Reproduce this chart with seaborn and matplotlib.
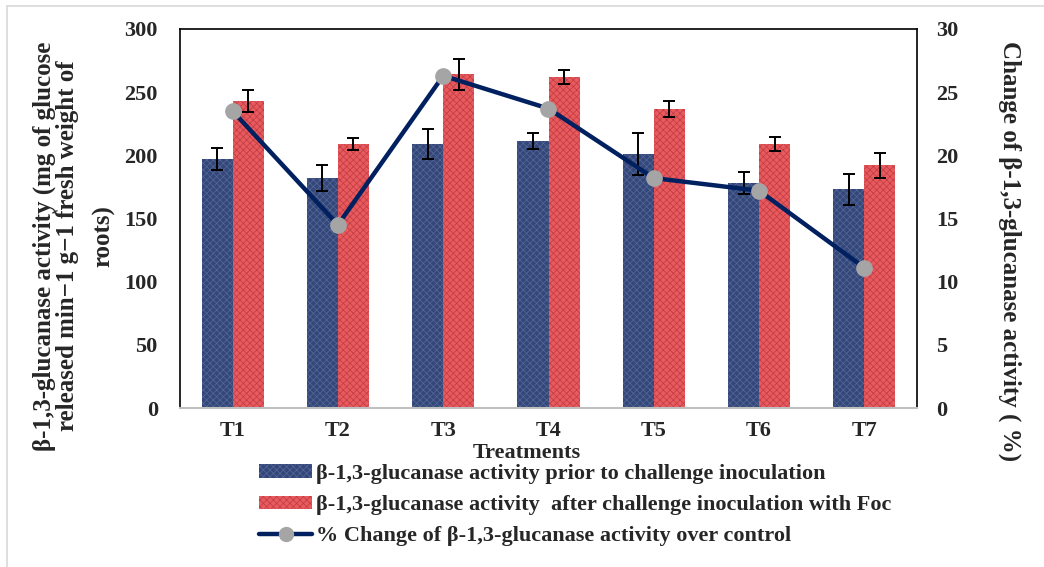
import numpy as np
import pandas as pd
import matplotlib
matplotlib.use("Agg")
import matplotlib.pyplot as plt
from matplotlib.patches import Patch
from matplotlib.lines import Line2D
import seaborn as sns

# ---- data ----
treatments = ["T1", "T2", "T3", "T4", "T5", "T6", "T7"]
prior = [197, 182, 209, 211, 201, 178, 173]
prior_err = [8.5, 10, 11.7, 6.3, 16.8, 8.8, 12]
after = [243, 209, 264, 262, 237, 209, 192]
after_err = [8.5, 4.6, 12.5, 5.5, 6.3, 5.5, 10]
pct_change = [23.5, 14.5, 26.3, 23.7, 18.2, 17.2, 11.1]

lab_prior = "β-1,3-glucanase activity prior to challenge inoculation"
lab_after = "β-1,3-glucanase activity  after challenge inoculation with Foc"
lab_change = "% Change of β-1,3-glucanase activity over control"

blue_face, blue_hatch = "#34477A", "#566895"
red_face, red_hatch = "#E85A5E", "#BE3C42"
line_col = "#002060"
marker_col = "#A5A5A5"

FS_TICK = 16
FS_LEG = 16
FS_TITLE = 18

sns.set_theme(style="white")
plt.rcParams["font.family"] = ["Liberation Serif", "DejaVu Serif"]
plt.rcParams["font.weight"] = "bold"
plt.rcParams["hatch.linewidth"] = 0.5

df = pd.DataFrame({
    "Treatment": treatments * 2,
    "Activity": prior + after,
    "Stage": [lab_prior] * 7 + [lab_after] * 7,
})

fig = plt.figure(figsize=(10.44, 5.67), dpi=100)
ax = fig.add_axes([180 / 1044, 1 - 408 / 567, (917 - 180) / 1044, (408 - 29) / 567])

sns.barplot(data=df, x="Treatment", y="Activity", hue="Stage",
            palette=[blue_face, red_face], width=0.59, errorbar=None,
            saturation=1, legend=False, ax=ax)

# texture on bars + error bars from the patch geometry
errs = prior_err + after_err
hatch_cols = [blue_hatch] * 7 + [red_hatch] * 7
bars = [p for p in ax.patches if p.get_height() > 0]
for p, e, hc in zip(bars, errs, hatch_cols):
    p.set_hatch("xxxxx")
    p.set_edgecolor(hc)
    p.set_linewidth(0)
    cx = p.get_x() + p.get_width() / 2
    ax.errorbar(cx, p.get_height(), yerr=e, fmt="none", ecolor="black",
                elinewidth=1.4, capsize=4.5, capthick=1.4, zorder=5)

ax.set_xlim(-0.5, 6.5)
ax.set_ylim(0, 300)
ax.set_yticks(range(0, 301, 50))
ax.set_xlabel("")
ax.set_ylabel("")
ax.tick_params(axis="y", length=0, pad=16, labelsize=FS_TICK)
ax.tick_params(axis="x", length=0, pad=9, labelsize=FS_TICK)
for s in ["left", "top", "right"]:
    ax.spines[s].set_color("black")
    ax.spines[s].set_linewidth(1.2)
ax.spines["bottom"].set_color("#BFBFBF")
ax.spines["bottom"].set_linewidth(1.5)
for t in ax.get_xticklabels() + ax.get_yticklabels():
    t.set_fontweight("bold")

# percentage change on the secondary axis
ax2 = ax.twinx()
sns.pointplot(x=treatments, y=pct_change, color=line_col, markers="o",
              linestyles="-", ax=ax2, zorder=6)
for ln in ax2.lines:
    ln.set_linewidth(3.2)
    ln.set_markersize(10)
    ln.set_markerfacecolor(marker_col)
    ln.set_markeredgecolor(marker_col)
ax2.set_xlim(-0.5, 6.5)
ax2.set_ylim(0, 30)
ax2.set_yticks(range(0, 31, 5))
ax2.tick_params(axis="y", length=0, pad=14, labelsize=FS_TICK)
for t in ax2.get_yticklabels():
    t.set_fontweight("bold")
for s in ax2.spines.values():
    s.set_visible(False)

# axis titles
fig.text(56 / 1044, 1 - 246 / 567,
         "β-1,3-glucanase activity (mg of glucose\nreleased min−1 g−1 fresh weight of",
         rotation=90, ha="center", va="center", fontsize=FS_TITLE, fontweight="bold",
         linespacing=1.0, multialignment="center")
fig.text(104 / 1044, 1 - 236 / 567, "roots)", rotation=90, ha="center", va="center",
         fontsize=FS_TITLE, fontweight="bold")
fig.text(1010 / 1044, 1 - 251 / 567, "Change of β-1,3-glucanase activity ( %)",
         rotation=270, ha="center", va="center", fontsize=FS_TITLE, fontweight="bold")
fig.text(527 / 1044, 1 - 453 / 567, "Treatments", ha="center", va="center",
         fontsize=FS_LEG, fontweight="bold")

# legend
handles = [
    Patch(facecolor=blue_face, edgecolor=blue_hatch, hatch="xxxxx", linewidth=0),
    Patch(facecolor=red_face, edgecolor=red_hatch, hatch="xxxxx", linewidth=0),
    Line2D([0], [0], color=line_col, lw=3.2, marker="o", markersize=10,
           markerfacecolor=marker_col, markeredgecolor=marker_col),
]
fig.legend(handles, [lab_prior, lab_after, lab_change],
           loc="upper left", bbox_to_anchor=(259 / 1044, 1 - 464 / 567),
           frameon=False, prop={"size": FS_LEG, "weight": "bold"},
           handlelength=2.4, handleheight=0.55, handletextpad=0.15,
           labelspacing=0.5, borderaxespad=0, borderpad=0)

# light outer frame
fig.add_artist(Line2D([7 / 1044, 7 / 1044], [0, 1 - 6 / 567],
                      transform=fig.transFigure, color="#D9D9D9", lw=1.2))
fig.add_artist(Line2D([7 / 1044, 1], [1 - 6 / 567, 1 - 6 / 567],
                      transform=fig.transFigure, color="#D9D9D9", lw=1.2))

fig.savefig("out.png", dpi=100)
